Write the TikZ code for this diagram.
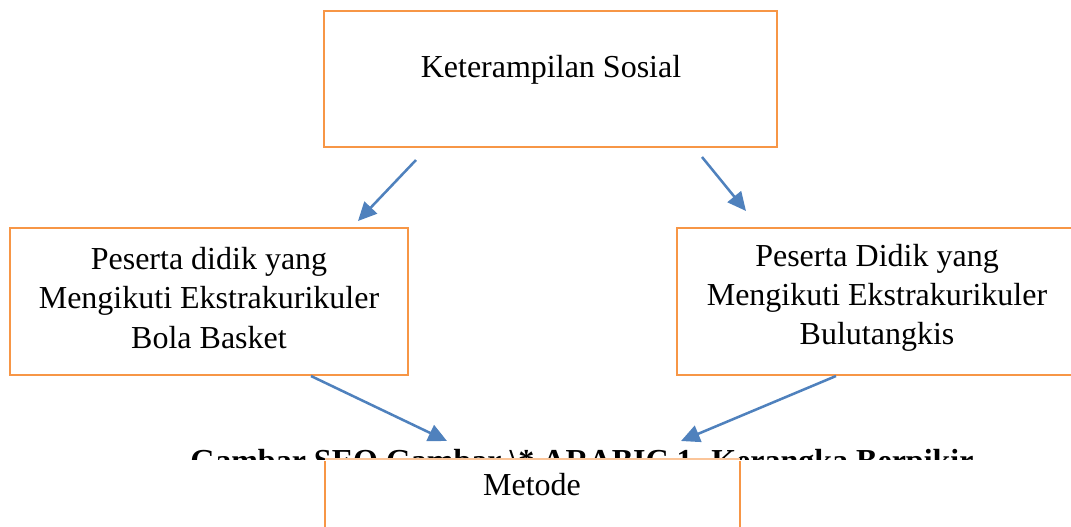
\documentclass[tikz,border=0pt]{standalone}
\usepackage{fontspec}
\setmainfont{Liberation Serif}
\usetikzlibrary{arrows.meta}
\definecolor{boxorange}{HTML}{F79646}
\definecolor{arrowblue}{HTML}{4F81BD}
\begin{document}
\begin{tikzpicture}[x=0.75pt,y=-0.75pt,
  box/.style={draw=boxorange,line width=1.9pt,fill=white},
  txt/.style={align=center,font=\fontsize{24}{29.5}\selectfont,inner sep=0pt},
  conn/.style={draw=arrowblue,line width=1.9pt,-{Triangle[length=14pt,width=13pt]}}]
\useasboundingbox (0,0) rectangle (1071,526);
\begin{scope}
\clip (0,0) rectangle (1071,526);
% boxes
\draw[box] (324,11) rectangle (777,147);
\node[txt] (ks) at (551,70) {Keterampilan Sosial};
\draw[box] (10,228) rectangle (408,375);
\node[txt] (bb) at (209,298) {Peserta didik yang\\Mengikuti Ekstrakurikuler\\Bola Basket};
\draw[box] (677,228) rectangle (1078,375);
\node[txt] (bt) at (877,298) {Peserta Didik yang\\Mengikuti Ekstrakurikuler\\Bulutangkis};
% hidden caption (only its upper part shows)
\begin{scope}
\clip (0,440) rectangle (1071,459);
\node[anchor=north,inner sep=0pt,font=\fontsize{24}{29}\bfseries\selectfont] (cap) at (582,449) {Gambar SEQ Gambar \textbackslash* ARABIC 1. Kerangka Berpikir};
\end{scope}
\draw[draw=boxorange!55,line width=0.8pt] (325,459) -- (740,459);
\draw[draw=boxorange,line width=1.9pt] (325,461) -- (325,530) (740,461) -- (740,530);
\node[txt] (me) at (532,485) {Metode};
% connectors
\coordinate (a1) at (416,160); \coordinate (a1e) at (358,221);
\coordinate (a2) at (702,157); \coordinate (a2e) at (746,211);
\coordinate (a3) at (311,376); \coordinate (a3e) at (447,441);
\coordinate (a4) at (836,376); \coordinate (a4e) at (681,441);
\draw[conn] (a1) -- (a1e);
\draw[conn] (a2) -- (a2e);
\draw[conn] (a3) -- (a3e);
\draw[conn] (a4) -- (a4e);
\end{scope}
\end{tikzpicture}
\end{document}
